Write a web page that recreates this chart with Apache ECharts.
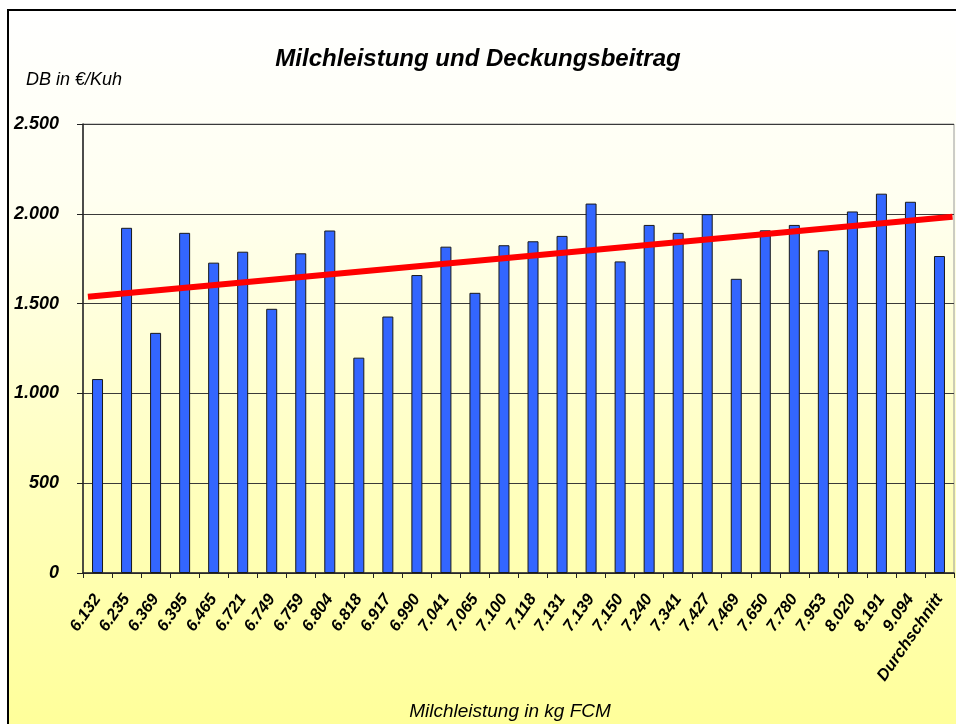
<!DOCTYPE html>
<html>
<head>
<meta charset="utf-8">
<title>Milchleistung und Deckungsbeitrag</title>
<script src="https://cdn.jsdelivr.net/npm/echarts@6/dist/echarts.min.js"></script>
<style>
  html, body { margin: 0; padding: 0; background: #fff; }
  .wrap { position: relative; width: 956px; height: 724px; overflow: hidden; }
  .box {
    position: absolute; left: 7px; top: 9px; width: 1100px; height: 760px;
    border-left: 2.5px solid #000; border-top: 2.5px solid #000;
    background: linear-gradient(to bottom, #ffffff 0%, #fffff0 25%, #ffffc0 60%, #ffff99 95%);
  }
  #chart { position: absolute; left: 0; top: 0; width: 956px; height: 724px; }
</style>
</head>
<body>
<div class="wrap">
  <div class="box"></div>
  <div id="chart"></div>
</div>
<script>
// Milchleistung (kg FCM) je Betrieb
const categories = ['6.132', '6.235', '6.369', '6.395', '6.465', '6.721', '6.749', '6.759', '6.804', '6.818',
  '6.917', '6.990', '7.041', '7.065', '7.100', '7.118', '7.131', '7.139', '7.150', '7.240',
  '7.341', '7.427', '7.469', '7.650', '7.780', '7.953', '8.020', '8.191', '9.094', 'Durchschnitt'];

// DB in €/Kuh
const dbValues = [1080, 1922, 1337, 1894, 1728, 1789, 1471, 1780, 1907, 1199,
  1428, 1659, 1817, 1560, 1825, 1847, 1877, 2057, 1735, 1938,
  1894, 1998, 1638, 1908, 1938, 1797, 2013, 2112, 2067, 1765];

// trend line ends (category position, value)
const trendPos = [-0.33, 29.45];
const trendVals = [1538, 1983];

const yTickLabels = ['0', '500', '1.000', '1.500', '2.000', '2.500'];

const font = 'Liberation Sans, Arial, sans-serif';

let chart = echarts.init(document.getElementById('chart'));

let option = {
  backgroundColor: 'transparent',
  animation: false,
  title: {
    text: 'Milchleistung und Deckungsbeitrag',
    left: 'center',
    top: 42,
    textStyle: { fontFamily: font, fontSize: 24, fontStyle: 'italic', fontWeight: 'bold', color: '#000' }
  },
  graphic: [
    {
      type: 'text', left: 26, top: 71,
      style: { text: 'DB in €/Kuh', font: 'italic 18px ' + font, fill: '#000' }
    },
    {
      type: 'text', x: 510, y: 702,
      style: { text: 'Milchleistung in kg FCM', font: 'italic 19px ' + font, fill: '#000', align: 'center', verticalAlign: 'top' }
    }
  ],
  grid: {
    left: 83, right: 2, top: 124, bottom: 151,
    show: true, borderColor: '#9a9a9a', borderWidth: 1, backgroundColor: 'transparent'
  },
  xAxis: [
    {
      type: 'category',
      data: categories,
      axisLine: { lineStyle: { color: '#222', width: 1.5 } },
      axisTick: { show: true, interval: 0, length: 5, lineStyle: { color: '#222' } },
      axisLabel: {
        interval: 0, rotate: 55, margin: 23,
        fontFamily: font, fontSize: 16.5, fontStyle: 'italic', fontWeight: 'bold', color: '#000'
      }
    },
    {
      type: 'value', show: false, min: -0.5, max: 29.5
    }
  ],
  yAxis: {
    type: 'value',
    min: 0, max: 2500, interval: 500,
    axisLine: { show: true, onZero: false, lineStyle: { color: '#222', width: 1.5 } },
    axisTick: { show: true, length: 6, lineStyle: { color: '#222' } },
    splitLine: { show: true, lineStyle: { color: '#3a3a3a', width: 1.2 } },
    axisLabel: {
      margin: 24,
      fontFamily: font, fontSize: 18, fontStyle: 'italic', fontWeight: 'bold', color: '#000',
      formatter: function (v) { return yTickLabels[Math.round(v / 500)]; }
    }
  },
  series: [
    {
      type: 'bar',
      data: dbValues,
      barWidth: 11,
      itemStyle: { color: '#3366ff', borderColor: '#1a1a1a', borderWidth: 1 }
    },
    {
      type: 'line',
      xAxisIndex: 1,
      data: trendPos.map(function (p, i) { return [p, trendVals[i]]; }),
      symbol: 'none',
      z: 5,
      lineStyle: { color: '#ff0000', width: 6 }
    }
  ]
};

chart.setOption(option);
</script>
</body>
</html>
